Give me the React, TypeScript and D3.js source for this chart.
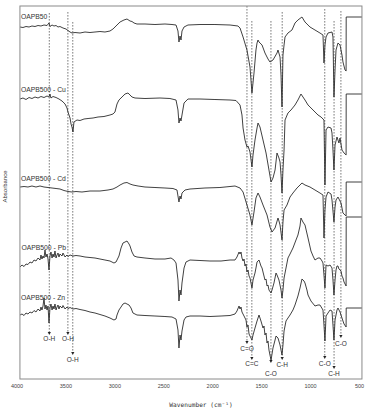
import React from "react";
import * as d3 from "d3";

// ---- data (wavenumber cm-1, absorbance in arbitrary units incl. stacking offset) ----
const xTicks = [4000, 3500, 3000, 2500, 2000, 1500, 1000, 500];

const oapb50: [number, number][] = [
  [3969, 352], [3939, 351.5], [3908, 352.5], [3877, 352], [3847, 353], [3816, 352.5], [3785, 353.5],
  [3755, 353], [3724, 354], [3693, 353.5], [3673, 356], [3663, 352.5], [3642, 354], [3622, 353],
  [3601, 353.5], [3581, 352], [3561, 352.5], [3530, 351], [3499, 350], [3479, 348.5], [3458, 347],
  [3438, 346], [3407, 346.5], [3356, 346], [3305, 347], [3254, 346.5], [3203, 347], [3152, 347.5],
  [3101, 347], [3050, 348], [3019, 350], [2978, 354], [2947, 357], [2907, 359], [2876, 360],
  [2845, 358], [2825, 357.5], [2804, 356], [2774, 355], [2692, 355], [2590, 354.5], [2488, 355],
  [2416, 354.5], [2375, 354], [2355, 348], [2345, 337], [2334, 343], [2324, 339], [2314, 348],
  [2293, 352], [2253, 354], [2130, 354.5], [1977, 354.5], [1823, 354], [1742, 353], [1721, 351],
  [1690, 342], [1650, 329], [1619, 312], [1599, 286], [1578, 306], [1558, 329], [1547, 336],
  [1537, 339], [1527, 337], [1496, 334], [1466, 326], [1435, 320], [1415, 317], [1384, 319],
  [1343, 326], [1333, 329], [1312, 322], [1302, 304], [1292, 272], [1282, 324], [1271, 334],
  [1261, 342], [1231, 346], [1190, 349], [1159, 356], [1129, 359], [1088, 362], [1057, 357],
  [1006, 352], [955, 349], [904, 346], [873, 344], [863, 316], [853, 334], [842, 342], [822, 346],
  [781, 347], [771, 342], [761, 282], [750, 309], [740, 329], [720, 336], [699, 334], [679, 324],
  [669, 317], [648, 309], [637, 308], [636, 362], [475, 362],
];

const oapb500Cu: [number, number][] = [
  [3969, 280], [3939, 281], [3908, 279.5], [3877, 281.5], [3847, 280.5], [3816, 282], [3785, 281],
  [3755, 282.5], [3724, 281.5], [3693, 283], [3673, 282], [3663, 285], [3653, 281], [3632, 282.5],
  [3601, 281.5], [3571, 280], [3540, 278], [3509, 275], [3489, 271], [3479, 267], [3458, 261],
  [3448, 255], [3438, 252], [3428, 247], [3418, 257], [3387, 259], [3356, 258.5], [3315, 260],
  [3274, 260.5], [3223, 261], [3172, 262], [3111, 262.5], [3050, 264], [3019, 265], [2999, 267],
  [2978, 275], [2958, 279], [2927, 282], [2896, 285], [2866, 286], [2845, 284], [2825, 282],
  [2794, 281], [2692, 280.5], [2539, 281], [2437, 280.5], [2375, 279], [2355, 269], [2345, 256],
  [2334, 261], [2324, 258], [2314, 264], [2293, 276], [2253, 280], [2130, 280], [1977, 279.5],
  [1823, 279], [1762, 278.5], [1721, 274], [1701, 264], [1690, 251], [1670, 239], [1650, 232],
  [1639, 233], [1619, 227], [1599, 212], [1588, 224], [1568, 239], [1547, 251], [1537, 256],
  [1517, 252], [1486, 239], [1455, 226], [1425, 209], [1404, 197], [1384, 201], [1363, 209],
  [1343, 226], [1323, 221], [1312, 217], [1302, 204], [1292, 186], [1282, 209], [1271, 229],
  [1261, 259], [1231, 266], [1200, 269], [1159, 274], [1129, 279], [1098, 285], [1057, 279],
  [1026, 274], [975, 269], [924, 264], [893, 262], [863, 259], [853, 194], [842, 249], [822, 252],
  [791, 251], [781, 246], [771, 229], [761, 209], [750, 234], [730, 242], [710, 236], [699, 241],
  [679, 229], [658, 226], [637, 224], [636, 285], [475, 285],
];

const oapb500Cd: [number, number][] = [
  [3969, 192], [3928, 192.5], [3888, 192], [3847, 193], [3806, 192], [3765, 193], [3724, 192],
  [3683, 191.5], [3642, 191], [3601, 190.5], [3561, 190], [3520, 188.5], [3479, 187.5], [3438, 187],
  [3397, 187.5], [3336, 187], [3254, 188], [3152, 188], [3070, 189], [3019, 190], [2978, 192],
  [2947, 194], [2907, 196], [2876, 196.5], [2845, 195], [2815, 194], [2763, 193], [2692, 192],
  [2590, 191.5], [2488, 191], [2406, 190.5], [2365, 189], [2345, 177], [2334, 183], [2324, 180],
  [2314, 186], [2283, 189], [2232, 190], [2079, 191], [1926, 191.5], [1772, 193], [1721, 191],
  [1690, 187], [1650, 174], [1619, 164], [1599, 154], [1578, 167], [1558, 181], [1537, 186],
  [1517, 182], [1486, 174], [1445, 164], [1415, 152], [1394, 147], [1363, 151], [1333, 161],
  [1323, 158], [1312, 154], [1292, 139], [1282, 157], [1271, 169], [1241, 174], [1210, 182],
  [1180, 186], [1139, 191], [1108, 194], [1088, 196], [1057, 194], [1006, 192], [955, 189],
  [904, 186], [873, 184], [863, 141], [853, 169], [842, 182], [822, 187], [791, 185], [781, 179],
  [761, 157], [750, 172], [740, 179], [720, 182], [689, 176], [669, 166], [637, 163], [636, 197],
  [475, 197],
];

const oapb500Pb: [number, number][] = [
  [3969, 112], [3949, 114], [3928, 112.5], [3908, 115], [3888, 114.5], [3867, 117], [3847, 116],
  [3826, 119], [3806, 118], [3785, 121], [3765, 119], [3755, 124], [3745, 120], [3734, 123],
  [3724, 121], [3714, 129], [3704, 122], [3693, 125], [3683, 120], [3673, 109], [3663, 123],
  [3653, 127], [3642, 121], [3632, 125], [3622, 122], [3612, 128], [3601, 121], [3591, 124],
  [3581, 126], [3571, 122], [3561, 125], [3540, 123], [3530, 126], [3509, 122], [3489, 124],
  [3479, 122.5], [3458, 124], [3428, 123], [3397, 123.5], [3356, 123], [3305, 122], [3254, 121.5],
  [3203, 121], [3152, 120], [3101, 119], [3050, 118], [3009, 116], [2988, 117], [2958, 123],
  [2937, 131], [2917, 136], [2896, 137], [2876, 138], [2855, 135], [2845, 133], [2825, 127],
  [2804, 123], [2774, 122], [2692, 121], [2590, 120], [2488, 120], [2426, 121], [2396, 119],
  [2375, 116], [2355, 99], [2345, 78], [2334, 89], [2324, 84], [2314, 96], [2293, 111], [2273, 117],
  [2232, 119], [2130, 118.5], [2028, 118], [1915, 118], [1823, 119], [1772, 119], [1752, 122],
  [1731, 127], [1721, 125], [1711, 127], [1701, 121], [1690, 118], [1680, 120], [1670, 113],
  [1660, 115], [1650, 107], [1639, 109], [1629, 103], [1619, 101], [1609, 96], [1599, 91],
  [1588, 99], [1568, 106], [1558, 111], [1547, 117], [1527, 119], [1507, 113], [1496, 111],
  [1486, 107], [1476, 103], [1466, 99], [1455, 100], [1445, 93], [1435, 94], [1425, 89], [1404, 86],
  [1394, 89], [1374, 96], [1353, 106], [1343, 104], [1323, 99], [1302, 89], [1292, 81], [1282, 89],
  [1271, 101], [1251, 111], [1231, 121], [1210, 125], [1180, 131], [1149, 139], [1129, 144],
  [1108, 153], [1098, 161], [1078, 157], [1057, 154], [1026, 141], [996, 128], [975, 123],
  [955, 119], [924, 121], [904, 121], [883, 118], [873, 116], [863, 104], [853, 91], [842, 114],
  [822, 113], [801, 114], [781, 111], [771, 99], [761, 84], [750, 99], [740, 109], [730, 113],
  [720, 113], [710, 110], [689, 108], [679, 103], [669, 101], [658, 97], [637, 93], [636, 162],
  [475, 162],
];

const oapb500Zn: [number, number][] = [
  [3969, 64], [3949, 65], [3928, 63.5], [3908, 66], [3888, 65], [3867, 67], [3847, 66],
  [3826, 68.5], [3806, 67], [3785, 70], [3765, 68], [3755, 72], [3745, 69], [3734, 73], [3724, 81],
  [3714, 70], [3704, 74], [3693, 69], [3683, 73], [3673, 56], [3663, 71], [3653, 75], [3642, 69],
  [3632, 73], [3622, 70], [3612, 75], [3601, 69], [3591, 72], [3581, 74], [3571, 70], [3561, 73],
  [3540, 71], [3530, 73.5], [3509, 70], [3489, 72], [3479, 70.5], [3458, 71.5], [3428, 70],
  [3397, 70.5], [3356, 69.5], [3305, 68.5], [3254, 67], [3203, 66], [3152, 64.5], [3101, 63],
  [3050, 61], [3009, 59], [2988, 60], [2978, 64], [2958, 69], [2937, 72], [2917, 75], [2896, 76],
  [2876, 75], [2855, 74], [2835, 71], [2815, 66], [2774, 64], [2692, 63.5], [2590, 63],
  [2488, 62.5], [2416, 62], [2375, 60], [2355, 49], [2345, 31], [2334, 44], [2324, 39], [2314, 48],
  [2293, 59], [2273, 62], [2232, 63], [2130, 63], [2028, 62.5], [1915, 63], [1823, 63.5],
  [1772, 65], [1752, 68], [1731, 73], [1721, 70], [1711, 72], [1701, 67], [1680, 63], [1660, 59],
  [1650, 52], [1639, 54], [1629, 45], [1619, 43], [1599, 39], [1588, 44], [1568, 51], [1547, 58],
  [1527, 64], [1507, 58], [1486, 51], [1476, 53], [1466, 44], [1455, 46], [1445, 36], [1435, 38],
  [1425, 29], [1415, 24], [1404, 19], [1394, 25], [1384, 31], [1363, 39], [1353, 43], [1333, 41],
  [1312, 34], [1302, 29], [1292, 24], [1282, 34], [1271, 48], [1251, 58], [1231, 61], [1210, 64],
  [1180, 69], [1159, 74], [1129, 83], [1108, 91], [1088, 100], [1067, 98], [1057, 96], [1037, 89],
  [1026, 84], [1006, 80], [996, 78], [955, 73], [924, 74], [904, 74], [873, 69], [863, 54],
  [853, 38], [842, 63], [822, 66], [801, 69], [781, 68], [771, 54], [761, 39], [750, 59], [730, 69],
  [720, 71], [699, 67], [689, 64], [669, 58], [658, 55], [637, 52], [636, 71], [475, 71],
];

const seriesNames = ["OAPB50", "OAPB500 - Cu", "OAPB500 - Cd", "OAPB500 - Pb", "OAPB500 - Zn"];
const seriesData = [oapb50, oapb500Cu, oapb500Cd, oapb500Pb, oapb500Zn];
// label anchor: [wavenumber, absorbance]
const seriesLabelPos: [number, number][] = [[3960, 360], [3960, 287], [3960, 198], [3955, 129], [3960, 79]];

// band assignments: wavenumber, top of dashed line, arrow tip, label, label baseline
const bandWn = [3670, 3480, 3430, 1650, 1600, 1405, 1290, 855, 760, 690];
const bandTop = [366, 367, 357, 373, 358, 358, 367, 370, 358, 368];
const bandTip = [44, 44, 24, 35, 19, 16, 19, 20, 10, 41];
const bandLabel = ["O-H", "O-H", "O-H", "C=O", "C=C", "C-O", "C-H", "C-O", "C-H", "C-O"];
const bandLabelY = [38, 38, 17, 28, 13, 3, 12, 13, 3, 33];

const W = 378;
const H = 416;

export default function App() {
  const x = d3.scaleLinear().domain([4000, 500]).range([17, 359.5]);
  const y = d3.scaleLinear().domain([0, 373]).range([379, 6]);
  const line = d3
    .line<[number, number]>()
    .x((d) => x(d[0]))
    .y((d) => y(d[1]));

  const left = x(3970);
  const right = x(475);
  const top = y(373);
  const bottom = y(0);
  const font = "'Liberation Sans', Arial, sans-serif";

  return (
    <svg
      width={W}
      height={H}
      style={{ position: "absolute", left: 0, top: 0, background: "#fff" }}
      fontFamily={font}
    >
      <rect x={0} y={0} width={W} height={H} fill="#fff" />
      {/* dashed band lines with arrows */}
      {bandWn.map((wn, i) => {
        const px = x(wn);
        const tip = y(bandTip[i]);
        return (
          <g key={"b" + i}>
            <line
              x1={px}
              x2={px}
              y1={y(bandTop[i])}
              y2={tip - 2.5}
              stroke="#444"
              strokeWidth={0.7}
              strokeDasharray="1.6,1.4"
            />
            <path d={`M${px - 1.6},${tip - 3}L${px + 1.6},${tip - 3}L${px},${tip}Z`} fill="#222" />
            <text
              x={px}
              y={y(bandLabelY[i])}
              fontSize={6.5}
              textAnchor="middle"
              fill="#333"
            >
              {bandLabel[i]}
            </text>
          </g>
        );
      })}
      {/* spectra */}
      {seriesData.map((s, i) => (
        <path key={"s" + i} d={line(s) || ""} fill="none" stroke="#2b2b2b" strokeWidth={0.9} strokeLinejoin="round" />
      ))}
      {seriesNames.map((n, i) => (
        <text key={"n" + i} x={x(seriesLabelPos[i][0])} y={y(seriesLabelPos[i][1])} fontSize={6.8} fill="#333">
          {n}
        </text>
      ))}
      {/* frame */}
      <rect x={left} y={top} width={right - left} height={bottom - top} fill="none" stroke="#8a8a8a" strokeWidth={1} />
      {/* ticks labels */}
      {xTicks.map((t) => (
        <text key={t} x={x(t)} y={bottom + 9} fontSize={5.5} textAnchor="middle" fill="#444">
          {t}
        </text>
      ))}
      <text x={201} y={407} fontSize={6.2} textAnchor="middle" fill="#333" fontFamily="'DejaVu Sans Mono', monospace">
        Wavenumber (cm⁻¹)
      </text>
      <text
        transform={`translate(7,${(top + bottom) / 2 - 6}) rotate(-90)`}
        fontSize={6}
        textAnchor="middle"
        fill="#333"
      >
        Absorbance
      </text>
    </svg>
  );
}
